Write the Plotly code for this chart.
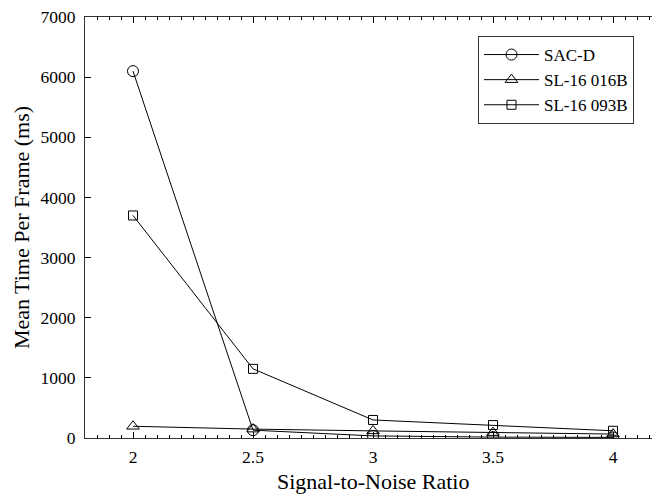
import plotly.graph_objects as go

snr = [2, 2.5, 3, 3.5, 4]
sac_d = [6100, 130, 35, 15, 10]
sl16_016b = [195, 148, 118, 90, 65]
sl16_093b = [3700, 1150, 300, 215, 120]

FONT = "'Liberation Serif', 'Times New Roman', serif"

fig = go.Figure()
series = [
    ("SAC-D", sac_d, "circle-open", 11),
    ("SL-16 016B", sl16_016b, "triangle-up-open", 11),
    ("SL-16 093B", sl16_093b, "square-open", 9),
]
for name, vals, sym, sz in series:
    fig.add_trace(go.Scatter(
        x=snr, y=vals, name=name, mode="lines+markers",
        line=dict(color="black", width=1),
        marker=dict(symbol=sym, size=sz, color="black", line=dict(width=1, color="black")),
    ))

fig.update_layout(
    width=652, height=496,
    margin=dict(l=85, r=0, t=17, b=58),
    paper_bgcolor="white", plot_bgcolor="white",
    font=dict(family=FONT, size=17.5, color="black"),
    showlegend=True,
    legend=dict(x=(478 - 85) / 567, y=(438 - 36) / 421, xanchor="left", yanchor="top",
                bordercolor="#333333", borderwidth=1, bgcolor="white",
                font=dict(family=FONT, size=17), tracegroupgap=0,
                itemwidth=55, entrywidth=122, entrywidthmode="pixels"),
    xaxis=dict(range=[1.8, 1.8 + 567 / 240], tickvals=[2, 2.5, 3, 3.5, 4],
               ticktext=["2", "2.5", "3", "3.5", "4"],
               ticks="inside", ticklen=6, tickcolor="black", tickwidth=1,
               minor=dict(dtick=0.05, tick0=0, ticks="inside", ticklen=3,
                          tickcolor="black", tickwidth=1, showgrid=False),
               showline=True, linecolor="#333333", linewidth=1, mirror="ticks",
               showgrid=False, zeroline=False, ticklabelstandoff=3),
    yaxis=dict(range=[0, 7000], tickvals=[0, 1000, 2000, 3000, 4000, 5000, 6000, 7000],
               ticks="inside", ticklen=6, tickcolor="black", tickwidth=1,
               showline=True, linecolor="#333333", linewidth=1, mirror=False,
               showgrid=False, zeroline=False, ticklabelstandoff=5,
               title=dict(text="Mean Time Per Frame (ms)", font=dict(size=22), standoff=4)),
    annotations=[dict(text="Signal-to-Noise Ratio", xref="x", x=3, yref="paper", y=0,
                      xanchor="center", yanchor="top", yshift=-29, showarrow=False,
                      font=dict(family=FONT, size=22, color="black"))],
)

fig.write_html("out.html")
